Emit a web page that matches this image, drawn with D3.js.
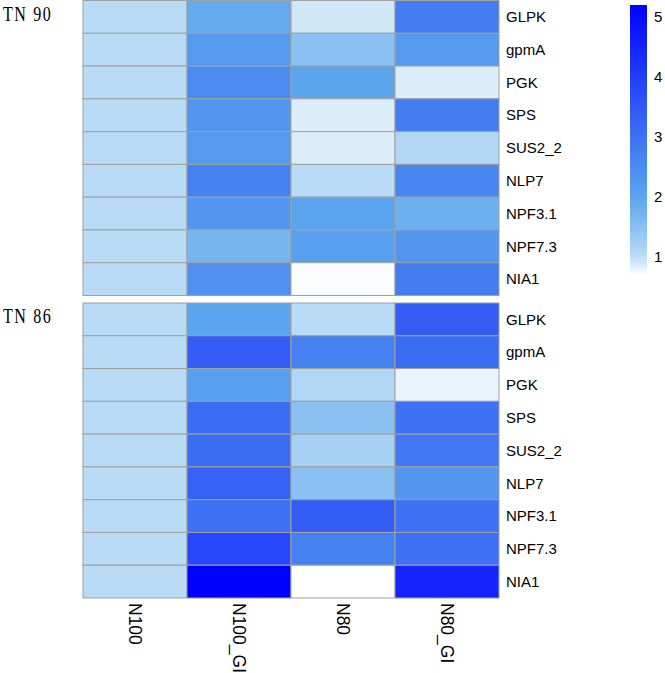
<!DOCTYPE html>
<html>
<head>
<meta charset="utf-8">
<script src="https://cdnjs.cloudflare.com/ajax/libs/d3/7.8.5/d3.min.js"></script>
<style>
  body { margin: 0; background: #fff; }
  svg text { font-family: "Liberation Sans", Arial, sans-serif; }
</style>
</head>
<body>
<div id="chart"></div>
<script>
// conditions (columns) and genes (rows)
const conditions = ["N100", "N100_GI", "N80", "N80_GI"];
const genes = ["GLPK", "gpmA", "PGK", "SPS", "SUS2_2", "NLP7", "NPF3.1", "NPF7.3", "NIA1"];
const panels = ["TN 90", "TN 86"];

// relative expression, one row per gene, columns in order of conditions
const tn90 = [
  [1.0, 1.9, 0.9, 2.8],
  [1.0, 2.2, 1.5, 2.2],
  [1.0, 2.5, 2.0, 0.85],
  [1.0, 2.3, 0.85, 2.8],
  [1.0, 2.2, 0.85, 1.1],
  [1.0, 2.7, 1.0, 2.6],
  [1.0, 2.3, 2.0, 1.8],
  [1.0, 1.7, 2.1, 2.3],
  [1.0, 2.4, 0.72, 2.8]
];
const tn86 = [
  [1.0, 2.0, 1.0, 3.4],
  [1.0, 3.4, 2.7, 3.1],
  [1.0, 2.1, 1.1, 0.8],
  [1.0, 3.1, 1.5, 3.0],
  [1.0, 3.1, 1.2, 2.9],
  [1.0, 3.3, 1.5, 2.3],
  [1.0, 3.0, 3.4, 3.0],
  [1.0, 3.8, 2.7, 3.0],
  [1.0, 5.2, 0.7, 4.5]
];
const legendTicks = [1, 2, 3, 4, 5];

const width = 665, height = 673;
const svg = d3.select("#chart").append("svg")
    .attr("width", width)
    .attr("height", height);

// colour ramp white -> light blue -> blue
const color = d3.scaleLinear()
    .domain([0.7, 1.0, 2.0, 5.2])
    .range(["#ffffff", "#b9dbf5", "#5aa5ee", "#0000ff"])
    .clamp(true);

const x = d3.scaleBand()
    .domain(conditions)
    .range([83, 499]);

const panelTop = [0.5, 303];
const panelH = 295;
const allData = [tn90, tn86];

panels.forEach(function(name, p){
    let y = d3.scaleBand()
        .domain(genes)
        .range([panelTop[p], panelTop[p] + panelH]);

    let g = svg.append("g");

    let cells = [];
    allData[p].forEach(function(row, i){
        row.forEach(function(v, j){
            cells.push({gene: genes[i], cond: conditions[j], value: v});
        });
    });

    g.selectAll("rect")
        .data(cells)
        .enter().append("rect")
        .attr("x", function(d){ return x(d.cond); })
        .attr("y", function(d){ return y(d.gene); })
        .attr("width", x.bandwidth())
        .attr("height", y.bandwidth())
        .attr("fill", function(d){ return color(d.value); })
        .attr("stroke", "#a0a0a0")
        .attr("stroke-width", 1);

    // gene names on the right
    g.selectAll(".rowlab")
        .data(genes)
        .enter().append("text")
        .attr("class", "rowlab")
        .attr("x", x.range()[1] + 7)
        .attr("y", function(d){ return y(d) + y.bandwidth() / 2; })
        .attr("dy", "0.35em")
        .style("font-size", "15px")
        .text(function(d){ return d; });

    // panel title on the left (narrow serif, spaced)
    svg.append("text")
        .attr("transform", "translate(3," + (panelTop[p] + 20) + ") scale(0.8,1)")
        .style("font-family", "'Liberation Serif', 'Times New Roman', serif")
        .style("font-size", "20px")
        .style("letter-spacing", "2px")
        .text(name);
});

// column labels, rotated
svg.selectAll(".collab")
    .data(conditions)
    .enter().append("text")
    .attr("class", "collab")
    .attr("transform", function(d){
        return "translate(" + (x(d) + x.bandwidth() / 2) + "," + 603 + ") rotate(90)";
    })
    .attr("dy", "0.35em")
    .style("font-size", "17.5px")
    .text(function(d){ return d; });

// legend
const ly = d3.scaleLinear()
    .domain([0.7, 5.2])
    .range([275, 5]);

const grad = svg.append("defs").append("linearGradient")
    .attr("id", "legendGrad")
    .attr("x1", 0).attr("y1", 1)
    .attr("x2", 0).attr("y2", 0);

d3.range(0, 1.0001, 0.05).forEach(function(t){
    let v = 0.7 + t * 4.5;
    grad.append("stop")
        .attr("offset", t)
        .attr("stop-color", color(v));
});

svg.append("rect")
    .attr("x", 630)
    .attr("y", ly(5.2))
    .attr("width", 17)
    .attr("height", ly(0.7) - ly(5.2))
    .attr("fill", "url(#legendGrad)");

svg.selectAll(".legtick")
    .data(legendTicks)
    .enter().append("text")
    .attr("class", "legtick")
    .attr("x", 654)
    .attr("y", function(d){ return ly(d); })
    .attr("dy", "0.35em")
    .style("font-size", "15px")
    .text(function(d){ return d; });
</script>
</body>
</html>
